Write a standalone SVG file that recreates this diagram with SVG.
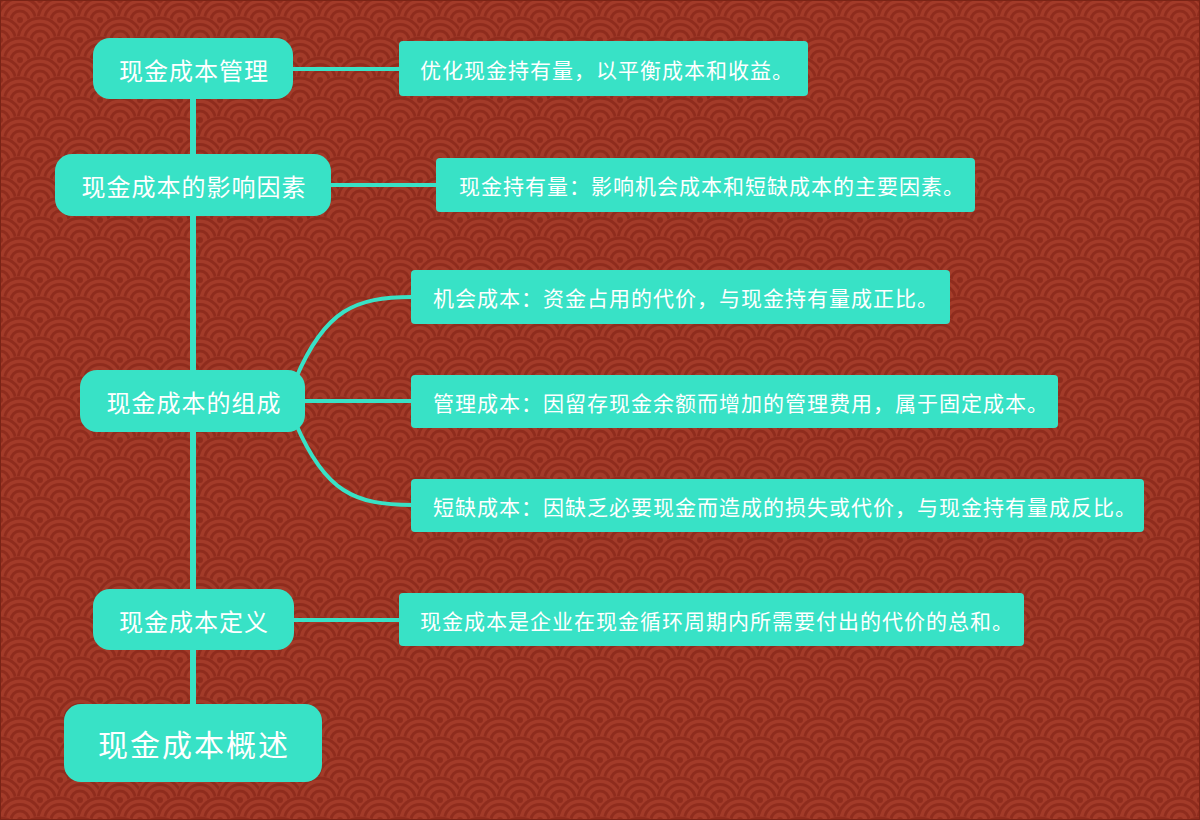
<svg xmlns="http://www.w3.org/2000/svg" xmlns:xlink="http://www.w3.org/1999/xlink" width="1200" height="820" viewBox="0 0 1200 820">
<style>
.node rect{fill:#38e2c6}
.node text{fill:#ffffff;font-family:"Noto Sans CJK SC","Noto Sans",sans-serif;dominant-baseline:central}
.main text{font-size:24px;letter-spacing:1px;text-anchor:middle}
.root text{font-size:30px;letter-spacing:2px;text-anchor:middle}
.leaf text{font-size:21px;letter-spacing:1px}
.conn{stroke:#38e2c6;fill:none;stroke-linecap:butt}
</style>
<defs>
<g id="scale">
<circle r="24" fill="#a33b29"/>
<circle r="22" fill="none" stroke="#8f2c1d" stroke-width="3"/>
<circle r="15.5" fill="none" stroke="#8f2c1d" stroke-width="3"/>
<circle r="9" fill="none" stroke="#8f2c1d" stroke-width="3"/>
<circle r="3" fill="#8f2c1d"/>
</g>
<pattern id="wave" x="0" y="0" width="40" height="40" patternUnits="userSpaceOnUse">
<rect width="40" height="40" fill="#a33b29"/>
<use xlink:href="#scale" x="0" y="0"/><use xlink:href="#scale" x="40" y="0"/>
<use xlink:href="#scale" x="-20" y="20"/><use xlink:href="#scale" x="20" y="20"/><use xlink:href="#scale" x="60" y="20"/>
<use xlink:href="#scale" x="0" y="40"/><use xlink:href="#scale" x="40" y="40"/>
<use xlink:href="#scale" x="-20" y="60"/><use xlink:href="#scale" x="20" y="60"/><use xlink:href="#scale" x="60" y="60"/>
</pattern>
</defs>
<rect width="1200" height="820" fill="url(#wave)"/>
<rect x="0.5" y="0.5" width="1199" height="819" fill="none" stroke="#7a2416" stroke-width="1"/>
<g id="connectors">
<line class="conn" x1="193" y1="69" x2="193" y2="743" stroke-width="6"/>
<line class="conn" x1="290" y1="69" x2="400" y2="69" stroke-width="4"/>
<line class="conn" x1="328" y1="185" x2="437" y2="185" stroke-width="4"/>
<line class="conn" x1="300" y1="401" x2="412" y2="401" stroke-width="4"/>
<path class="conn" d="M296 378 C325 310 355 297 412 297" stroke-width="4"/>
<path class="conn" d="M296 424 C325 492 355 505 412 505" stroke-width="4"/>
<line class="conn" x1="290" y1="620" x2="400" y2="620" stroke-width="4"/>
</g>
<g id="n-guanli" class="node main"><rect x="93" y="38" width="200" height="61" rx="17"/><text x="194" y="69">现金成本管理</text></g>
<g id="n-yingxiang" class="node main"><rect x="55" y="154" width="276" height="62" rx="17"/><text x="194" y="185">现金成本的影响因素</text></g>
<g id="n-zucheng" class="node main"><rect x="80" y="370" width="225" height="62" rx="17"/><text x="194" y="401">现金成本的组成</text></g>
<g id="n-dingyi" class="node main"><rect x="93" y="589" width="201" height="61" rx="17"/><text x="194" y="620">现金成本定义</text></g>
<g id="n-root" class="node root"><rect x="64" y="704" width="258" height="78" rx="17"/><text x="194" y="743">现金成本概述</text></g>
<g id="l-guanli" class="node leaf"><rect x="399" y="41" width="409" height="55" rx="4"/><text x="420" y="68.5">优化现金持有量，以平衡成本和收益。</text></g>
<g id="l-yingxiang" class="node leaf"><rect x="436" y="158" width="539" height="54" rx="4"/><text x="459" y="185">现金持有量：影响机会成本和短缺成本的主要因素。</text></g>
<g id="l-jihui" class="node leaf"><rect x="411" y="270" width="539" height="54" rx="4"/><text x="433" y="297">机会成本：资金占用的代价，与现金持有量成正比。</text></g>
<g id="l-guanlichengben" class="node leaf"><rect x="411" y="375" width="647" height="53" rx="4"/><text x="433" y="401.5">管理成本：因留存现金余额而增加的管理费用，属于固定成本。</text></g>
<g id="l-duanque" class="node leaf"><rect x="411" y="479" width="733" height="53" rx="4"/><text x="433" y="505.5">短缺成本：因缺乏必要现金而造成的损失或代价，与现金持有量成反比。</text></g>
<g id="l-dingyi" class="node leaf"><rect x="399" y="593" width="625" height="53" rx="4"/><text x="420" y="619.5">现金成本是企业在现金循环周期内所需要付出的代价的总和。</text></g>
</svg>
